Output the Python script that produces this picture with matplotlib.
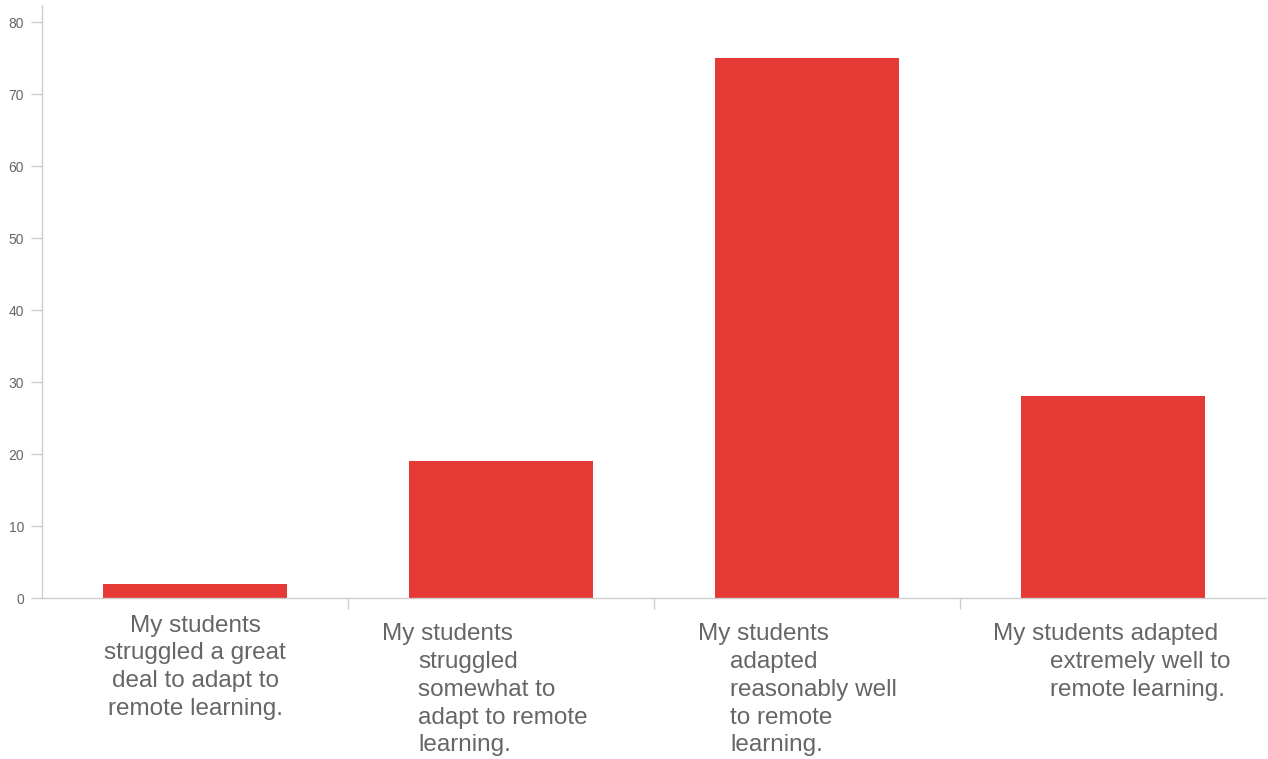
import matplotlib
matplotlib.use("Agg")
import matplotlib.pyplot as plt

# ── Data ──────────────────────────────────────────────────────────────────────
categories = [
    "My students struggled a great deal to adapt to remote learning.",
    "My students struggled somewhat to adapt to remote learning.",
    "My students adapted reasonably well to remote learning.",
    "My students adapted extremely well to remote learning.",
]
values = [2, 19, 75, 28]
yticks = [0, 10, 20, 30, 40, 50, 60, 70, 80]

# label layout as in the original (first line, remaining lines)
label_first = ["My students", "My students", "My students", "My students adapted"]
label_rest = [
    "struggled a great\ndeal to adapt to\nremote learning.",
    "struggled\nsomewhat to\nadapt to remote\nlearning.",
    "adapted\nreasonably well\nto remote\nlearning.",
    "extremely well to\nremote learning.",
]

BAR = "#e53935"
GRID = "#cccccc"
TXT = "#666666"
plt.rcParams["font.family"] = ["Liberation Sans", "DejaVu Sans"]

# ── Plot ──────────────────────────────────────────────────────────────────────
fig = plt.figure(figsize=(12.68, 7.59), dpi=100)
ax = fig.add_axes([42 / 1268, 1 - 598 / 759, 1224 / 1268, 593 / 759])

x = list(range(len(values)))
ax.bar(x, values, width=0.6, color=BAR, zorder=2)

ax.set_xlim(-0.5, len(values) - 0.5)
ax.set_ylim(0, 82.4)
ax.set_yticks(yticks)
ax.tick_params(axis="y", colors=GRID, labelcolor=TXT, labelsize=10,
               length=8, width=1, pad=5)

# category separators on x axis
ax.set_xticks([i + 0.5 for i in x[:-1]])
ax.set_xticklabels([])
ax.tick_params(axis="x", colors=GRID, length=8, width=1)

for s in ["top", "right"]:
    ax.spines[s].set_visible(False)
for s in ["left", "bottom"]:
    ax.spines[s].set_color(GRID)
    ax.spines[s].set_linewidth(1)

# category labels (wrapped as in the source chart)
trans = ax.get_xaxis_transform()
fs = 17.5
ls = 1.335
# first category centred
ax.text(x[0], -0.028, label_first[0] + "\n" + label_rest[0], transform=trans,
        ha="center", va="top", ma="center", fontsize=fs, color=TXT,
        linespacing=ls)
first_off = [None, -0.389, -0.356, -0.392]
rest_off = [None, -0.271, -0.252, -0.206]
for i in x[1:]:
    ax.text(i + first_off[i], -0.043, label_first[i], transform=trans,
            ha="left", va="top", fontsize=fs, color=TXT)
    ax.text(i + rest_off[i], -0.090, label_rest[i], transform=trans,
            ha="left", va="top", ma="left", fontsize=fs, color=TXT,
            linespacing=ls)

fig.savefig("out.png", dpi=100, facecolor="white")
